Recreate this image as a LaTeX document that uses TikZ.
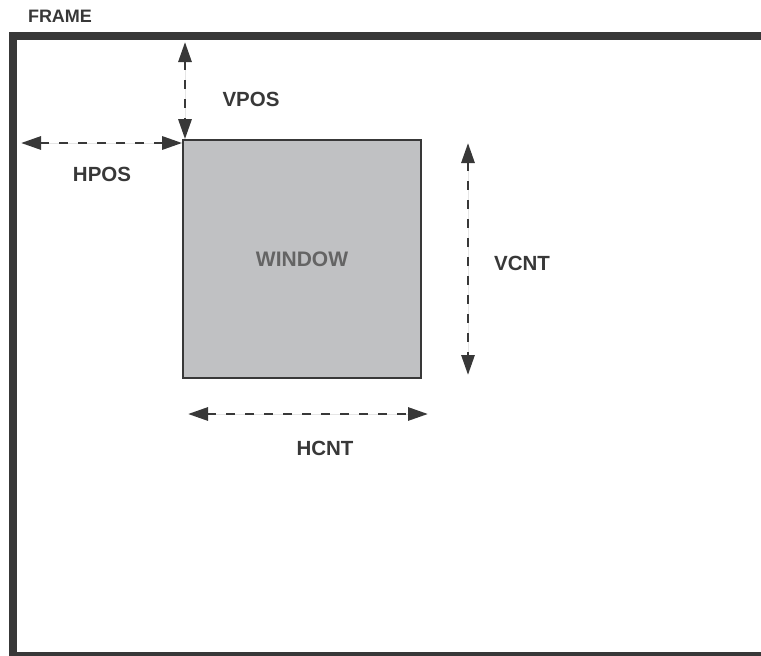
\documentclass[tikz,border=0pt]{standalone}
\usepackage{fontspec}
\setmainfont{Liberation Sans}
\usetikzlibrary{arrows.meta,positioning}
\definecolor{inkgray}{HTML}{383838}
\definecolor{wingray}{HTML}{C0C1C3}
\definecolor{wintext}{HTML}{646464}
\tikzset{
  dim/.style={{Triangle[length=20pt,width=13pt]}-{Triangle[length=20pt,width=13pt]},
    draw=inkgray,fill=inkgray,line width=2.9pt,dash pattern=on 8.5pt off 10.5pt},
  lbl/.style={inner sep=0pt,text=inkgray,font=\bfseries\fontsize{20.5}{24}\selectfont},
  winbox/.style={draw=inkgray,fill=wingray,line width=1.6pt,minimum width=238pt,
    minimum height=238pt,inner sep=0pt,text=wintext,font=\bfseries\fontsize{21}{24}\selectfont},
}
\begin{document}
\begin{tikzpicture}[x=1pt,y=-1pt]
  \useasboundingbox (0,0) rectangle (761,656);
  % frame, open to the right
  \draw[inkgray,line width=8pt] (775,36) -| (13,656) -- (775,656);
  \node[lbl,font=\bfseries\fontsize{18}{22}\selectfont] (frame) at (60,16) {FRAME};
  % window
  \node[winbox] (win) at (302,259) {WINDOW};
  \coordinate (hposL) at (21,143);
  \coordinate (vposT) at (185,42);
  \coordinate (vcntT) at (468,143);
  \coordinate (vcntB) at (468,375);
  \coordinate (hcntL) at (188,414);
  \coordinate (hcntR) at (428,414);
  \draw[dim] (hposL) -- (hposL -| win.west);
  \draw[dim] (vposT) -- (vposT |- win.north);
  \draw[dim] (vcntT) -- (vcntB);
  \draw[dim] (hcntL) -- (hcntR);
  \node[lbl] (vpos) at (251,99) {VPOS};
  \node[lbl] (hpos) at (102,174) {HPOS};
  \node[lbl] (vcnt) at (522,263) {VCNT};
  \node[lbl] (hcnt) at (325,448) {HCNT};
\end{tikzpicture}
\end{document}
